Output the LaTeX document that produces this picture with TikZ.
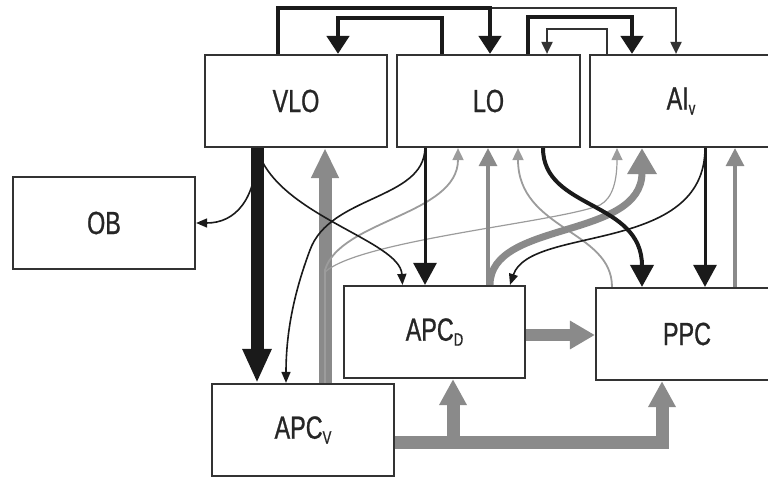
\documentclass[tikz,border=0pt]{standalone}
\usepackage{fontspec}
\setmainfont[FakeStretch=0.73,FakeBold=0.8]{Liberation Sans}
\usetikzlibrary{arrows.meta,calc}
\definecolor{boxc}{HTML}{333333}
\definecolor{blk}{HTML}{1A1A1A}
\definecolor{gry}{HTML}{8A8A8A}
\definecolor{lgry}{HTML}{9C9C9C}
\definecolor{txt}{HTML}{262626}
\newcommand\subtxt[1]{\raisebox{-5pt}{\fontsize{18}{18}\selectfont #1}}
\tikzset{
  box/.style={draw=boxc, line width=2.2pt, fill=white, minimum width=182pt,
    minimum height=92pt, inner sep=0pt, text=txt, font=\fontsize{32}{38}\selectfont},
  blackbar/.style={draw=blk, line width=13pt, -{Triangle[width=27pt,length=34pt]}},
  graybar/.style={draw=gry, line width=13pt, -{Triangle[width=26pt,length=30pt]}},
  topthick/.style={draw=blk, line width=4.5pt, line join=miter, -{Triangle[width=22pt,length=18pt]}},
  topthin/.style={draw=boxc, line width=2pt, line join=miter, -{Triangle[width=11pt,length=12pt]}},
  medblack/.style={draw=blk, line width=3pt, -{Triangle[width=23pt,length=22pt]}},
  thickcurve/.style={draw=blk, line width=4pt, -{Triangle[width=23pt,length=22pt]}},
  thinblack/.style={draw=blk, line width=1.6pt, -{Triangle[width=9pt,length=11pt]}},
  thingray/.style={draw=lgry, line width=1.8pt, -{Triangle[width=11pt,length=12pt]}},
  medgray/.style={draw=gry, line width=3.2pt, -{Triangle[width=18pt,length=18pt]}},
  thickgray/.style={draw=gry, line width=7pt, -{Triangle[width=28pt,length=26pt]}},
  flatgray/.style={draw=gry, line width=13pt, line join=miter, -{Triangle[width=26pt,length=26pt]}}
}
\begin{document}
\begin{tikzpicture}[x=1pt,y=-1pt]
\useasboundingbox (0,0) rectangle (768,479);
% boxes
\node[box] (VLO)  at (296,101)   {VLO};
\node[box, minimum width=183pt] (LO) at (488.5,101) {LO};
\node[box] (AIv)  at (681,101)   {AI\subtxt{v}};
\node[box] (OB)   at (104,223)   {OB};
\node[box, minimum width=181pt] (APCD) at (434.5,332) {APC\subtxt{D}};
\node[box] (PPC)  at (687,334)   {PPC};
\node[box] (APCv) at (303,430)   {APC\subtxt{V}};
% top connectors
\draw[topthin]  ($(VLO.north)+(-18,0)$) -- ++(0,-46) -| ($(AIv.north)+(-5,0)$);
\draw[topthick] ($(VLO.north)+(-18,0)$) -- ++(0,-46) -| ($(LO.north)+(1.5,0)$);
\draw[topthick] ($(LO.north)+(-46.5,0)$) -- ++(0,-36) -| ($(VLO.north)+(42,0)$);
\draw[topthick] ($(LO.north)+(39.5,0)$) -- ++(0,-37) -| ($(AIv.north)+(-49,0)$);
\draw[topthin]  ($(AIv.north)+(-74,0)$) -- ++(0,-25) -| ($(LO.north)+(58.5,0)$);
% bars
\draw[blackbar] ($(VLO.south)+(-39,0)$) -- ($(APCv.north)+(-46,0)$);
\draw[graybar]  ($(APCv.north)+(22,0)$) -- ($(VLO.south)+(29,0)$);
% gray connectors
\draw[thingray] ($(APCv.north)+(22,0)$) -- (325,270) .. controls (340,220) and (458,215) .. ($(LO.south)+(-30.5,0)$);
\draw[thingray, line width=1.2pt] ($(APCv.north)+(22,0)$) -- (325,272) .. controls (360,240) and (560,222) .. (600,205) .. controls (613,198) and (617,180) .. ($(AIv.south)+(-64,0)$);
\draw[thingray] ($(PPC.north)+(-75,0)$) .. controls (612,230) and (518,230) .. ($(LO.south)+(29.5,0)$);
\draw[medgray] ($(APCD.north)+(53.5,0)$) -- ($(LO.south)+(-0.5,0)$);
\draw[thickgray] ($(APCD.north)+(55.5,0)$) .. controls (490,220) and (642,240) .. ($(AIv.south)+(-39,0)$);
\draw[medgray] ($(PPC.north)+(48,0)$) -- ($(AIv.south)+(54,0)$);
% black connectors
\draw[thinblack] ($(VLO.south)+(-39,0)$) .. controls (257,200) and (235,223) .. (OB.east);
\draw[thinblack] ($(VLO.south)+(-39,0)$) .. controls (275,215) and (400,240) .. ($(APCD.north)+(-32,0)$);
\draw[medblack] ($(LO.south)+(-63.5,0)$) -- ($(APCD.north)+(-9.5,0)$);
\draw[thinblack] ($(LO.south)+(-63.5,0)$) .. controls (424,200) and (330,195) .. (310,250) .. controls (295,290) and (286,330) .. ($(APCv.north)+(-17,0)$);
\draw[medblack] ($(AIv.south)+(24,0)$) -- ($(PPC.north)+(18,0)$);
\draw[thinblack] ($(AIv.south)+(24,0)$) .. controls (705,255) and (530,225) .. ($(APCD.north)+(75.5,0)$);
\draw[thickcurve] ($(LO.south)+(54.5,0)$) .. controls (543,210) and (642,200) .. ($(PPC.north)+(-45,0)$);
% bottom connectors
\draw[graybar, line width=12pt, -{Triangle[width=27pt,length=25pt]}] ($(APCD.east)+(0,3)$) -- ($(PPC.west)+(0,1)$);
\draw[flatgray] ($(APCv.east)+(0,12)$) -| ($(APCD.south)+(18.5,0)$);
\draw[flatgray] ($(APCv.east)+(0,12)$) -| ($(PPC.south)+(-25,0)$);
\end{tikzpicture}
\end{document}
